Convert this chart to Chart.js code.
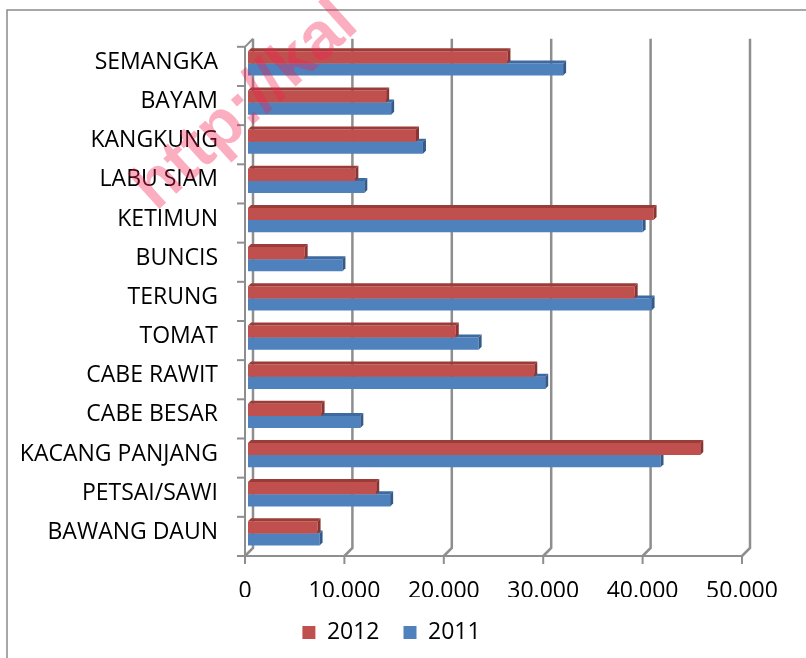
<!DOCTYPE html>
<html>
<head>
<meta charset="utf-8">
<script src="https://cdn.jsdelivr.net/npm/chart.js@4.4.1/dist/chart.umd.min.js"></script>
<style>
  html, body { margin: 0; padding: 0; background: #fff; }
  #wrap { width: 806px; height: 658px; }
</style>
</head>
<body>
<div id="wrap"><canvas id="chart" width="806" height="658"></canvas></div>
<script>
const categories = ['SEMANGKA', 'BAYAM', 'KANGKUNG', 'LABU SIAM', 'KETIMUN', 'BUNCIS', 'TERUNG',
  'TOMAT', 'CABE RAWIT', 'CABE BESAR', 'KACANG PANJANG', 'PETSAI/SAWI', 'BAWANG DAUN'];
const values2012 = [26100, 13900, 16900, 10800, 40800, 5700, 38900, 20900, 28800, 7400, 45500, 12900, 7000];
const values2011 = [31700, 14400, 17600, 11700, 39700, 9500, 40600, 23200, 29900, 11300, 41500, 14300, 7200];
const xTicks = [0, 10000, 20000, 30000, 40000, 50000];

const DEPTH_F = 3;  // front wall offset
const DEPTH_B = 5;  // back wall offset
const gridColor = '#8e8e8e';

function fmt(v) {
  return String(v).replace(/\B(?=(\d{3})+(?!\d))/g, '.');
}

// frame + white background
const framePlugin = {
  id: 'frame',
  beforeDraw(chart) {
    const ctx = chart.ctx;
    ctx.save();
    ctx.fillStyle = '#fff';
    ctx.fillRect(0, 0, chart.width, chart.height);
    ctx.strokeStyle = '#8a8a8a';
    ctx.lineWidth = 1.5;
    ctx.beginPath();
    ctx.moveTo(7, chart.height);
    ctx.lineTo(7, 10);
    ctx.lineTo(chart.width, 10);
    ctx.stroke();
    ctx.restore();
  }
};

// 3D-looking walls and axes
const wallsPlugin = {
  id: 'walls',
  beforeDatasetsDraw(chart) {
    const ctx = chart.ctx;
    const xs = chart.scales.x;
    const { left, top, bottom } = chart.chartArea;
    ctx.save();
    ctx.strokeStyle = gridColor;
    ctx.lineWidth = 2.5;
    xTicks.forEach(v => {
      const px = xs.getPixelForValue(v);
      ctx.beginPath();
      ctx.moveTo(px + DEPTH_B, top - DEPTH_B);
      ctx.lineTo(px + DEPTH_B, bottom - DEPTH_B);
      ctx.lineTo(px - DEPTH_F, bottom + DEPTH_F);
      ctx.stroke();
    });
    // front horizontal axis
    ctx.lineWidth = 2;
    ctx.beginPath();
    ctx.moveTo(xs.getPixelForValue(0) - DEPTH_F, bottom + DEPTH_F);
    ctx.lineTo(xs.getPixelForValue(50000) - DEPTH_F, bottom + DEPTH_F);
    ctx.stroke();
    xTicks.forEach(v => {
      const px = xs.getPixelForValue(v) - DEPTH_F;
      ctx.beginPath();
      ctx.moveTo(px, bottom + DEPTH_F);
      ctx.lineTo(px, bottom + DEPTH_F + 8);
      ctx.stroke();
    });
    // front left axis
    ctx.beginPath();
    ctx.moveTo(left + DEPTH_B, top - DEPTH_B);
    ctx.lineTo(left - DEPTH_F, top + DEPTH_F);
    ctx.lineTo(left - DEPTH_F, bottom + DEPTH_F);
    ctx.stroke();
    const n = categories.length;
    for (let i = 0; i <= n; i++) {
      const y = top + i * (bottom - top) / n + DEPTH_F;
      ctx.beginPath();
      ctx.moveTo(left - DEPTH_F - 8, y);
      ctx.lineTo(left - DEPTH_F, y);
      ctx.stroke();
    }
    ctx.restore();
  },
  afterDatasetDraw(chart, args) {
    const ctx = chart.ctx;
    const ds = chart.data.datasets[args.index];
    const d = 3;
    ctx.save();
    args.meta.data.forEach(el => {
      const p = el.getProps(['x', 'y', 'base', 'height'], true);
      const t = p.y - p.height / 2, b = p.y + p.height / 2;
      ctx.fillStyle = ds.topColor;
      ctx.beginPath();
      ctx.moveTo(p.base, t);
      ctx.lineTo(p.x, t);
      ctx.lineTo(p.x + d, t - d);
      ctx.lineTo(p.base + d, t - d);
      ctx.closePath();
      ctx.fill();
      ctx.fillStyle = ds.sideColor;
      ctx.beginPath();
      ctx.moveTo(p.x, t);
      ctx.lineTo(p.x + d, t - d);
      ctx.lineTo(p.x + d, b - d);
      ctx.lineTo(p.x, b);
      ctx.closePath();
      ctx.fill();
    });
    ctx.restore();
  }
};

// watermark seen on the source picture
const watermarkPlugin = {
  id: 'watermark',
  afterDraw(chart) {
    const ctx = chart.ctx;
    ctx.save();
    ctx.translate(156, 212);
    ctx.rotate(-42 * Math.PI / 180);
    ctx.font = 'bold 66px "Liberation Sans", Arial, sans-serif';
    ctx.fillStyle = 'rgba(240, 30, 80, 0.36)';
    ctx.textBaseline = 'alphabetic';
    ctx.fillText('http://kal', 0, 0);
    ctx.restore();
  }
};

Chart.defaults.font.family = '"Open Sans", sans-serif';
Chart.defaults.color = '#000';

const ctx = document.getElementById('chart').getContext('2d');
new Chart(ctx, {
  type: 'bar',
  data: {
    labels: categories,
    datasets: [
      {
        label: '2012',
        data: values2012,
        backgroundColor: '#c0504d',
        topColor: '#9c3c39',
        sideColor: '#8a3330',
        categoryPercentage: 0.62,
        barPercentage: 1.0
      },
      {
        label: '2011',
        data: values2011,
        backgroundColor: '#4f81bd',
        topColor: '#3d6aa0',
        sideColor: '#345a8a',
        categoryPercentage: 0.62,
        barPercentage: 1.0
      }
    ]
  },
  options: {
    indexAxis: 'y',
    responsive: false,
    animation: false,
    layout: { padding: { left: 8, top: 37, right: 31, bottom: 4 } },
    plugins: {
      legend: {
        position: 'bottom',
        labels: {
          boxWidth: 13,
          boxHeight: 13,
          padding: 24,
          font: { size: 23 }
        }
      },
      tooltip: { enabled: false }
    },
    scales: {
      x: {
        min: 0,
        max: 50000,
        afterBuildTicks(scale) {
          scale.ticks = xTicks.map(v => ({ value: v }));
        },
        afterFit(scale) { scale.height = 44; },
        grid: { display: false, drawTicks: false },
        border: { display: false },
        ticks: {
          padding: 25,
          labelOffset: -3,
          maxRotation: 0,
          font: { size: 23 },
          callback: v => fmt(v)
        }
      },
      y: {
        afterFit(scale) { scale.width = 240; },
        grid: { display: false, drawTicks: false },
        border: { display: false },
        ticks: {
          padding: 30,
          labelOffset: -1,
          font: { size: 23 }
        }
      },
      y2: {
        position: 'right',
        afterFit(scale) { scale.width = 30; },
        grid: { display: false, drawTicks: false },
        border: { display: false },
        ticks: { display: false }
      }
    }
  },
  plugins: [framePlugin, wallsPlugin, watermarkPlugin]
});
</script>
</body>
</html>
